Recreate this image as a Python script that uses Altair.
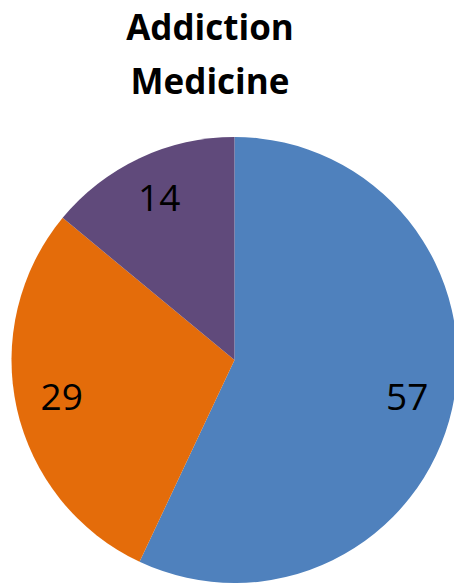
import altair as alt
import pandas as pd

# Slice categories, counts and colours
categories = ["A", "B", "C"]
values = [57, 29, 14]
colors = ["#4F81BD", "#E46C0A", "#604A7B"]

df = pd.DataFrame({"category": categories, "value": values, "order": [0, 1, 2]})

color_scale = alt.Scale(domain=categories, range=colors)

base = alt.Chart(df).encode(
    theta=alt.Theta("value:Q", stack=True),
    order=alt.Order("order:Q"),
)

pie = base.mark_arc(outerRadius=223).encode(
    color=alt.Color("category:N", scale=color_scale, legend=None),
    x=alt.value(234.5),
    y=alt.value(230),
)

labels = base.mark_text(
    radius=177, fontSize=37, font="Open Sans", color="black",
    align="center", baseline="middle",
).encode(
    text=alt.Text("value:Q"),
    x=alt.value(234.5),
    y=alt.value(230),
)

chart = (
    alt.layer(pie, labels)
    .properties(
        width=454,
        height=453,
        padding={"top": 130, "left": 0, "right": 0, "bottom": 0},
        autosize=alt.AutoSizeParams(type="none"),
        title=alt.TitleParams(
            text=["Addiction", "Medicine"],
            font="Open Sans",
            fontSize=35,
            fontWeight="bold",
            color="black",
            lineHeight=54,
            anchor="middle",
            dx=-17,
            offset=29,
        ),
    )
    .configure_view(stroke=None)
)

chart.save("out.html", embed_options={"renderer": "svg", "actions": False})
